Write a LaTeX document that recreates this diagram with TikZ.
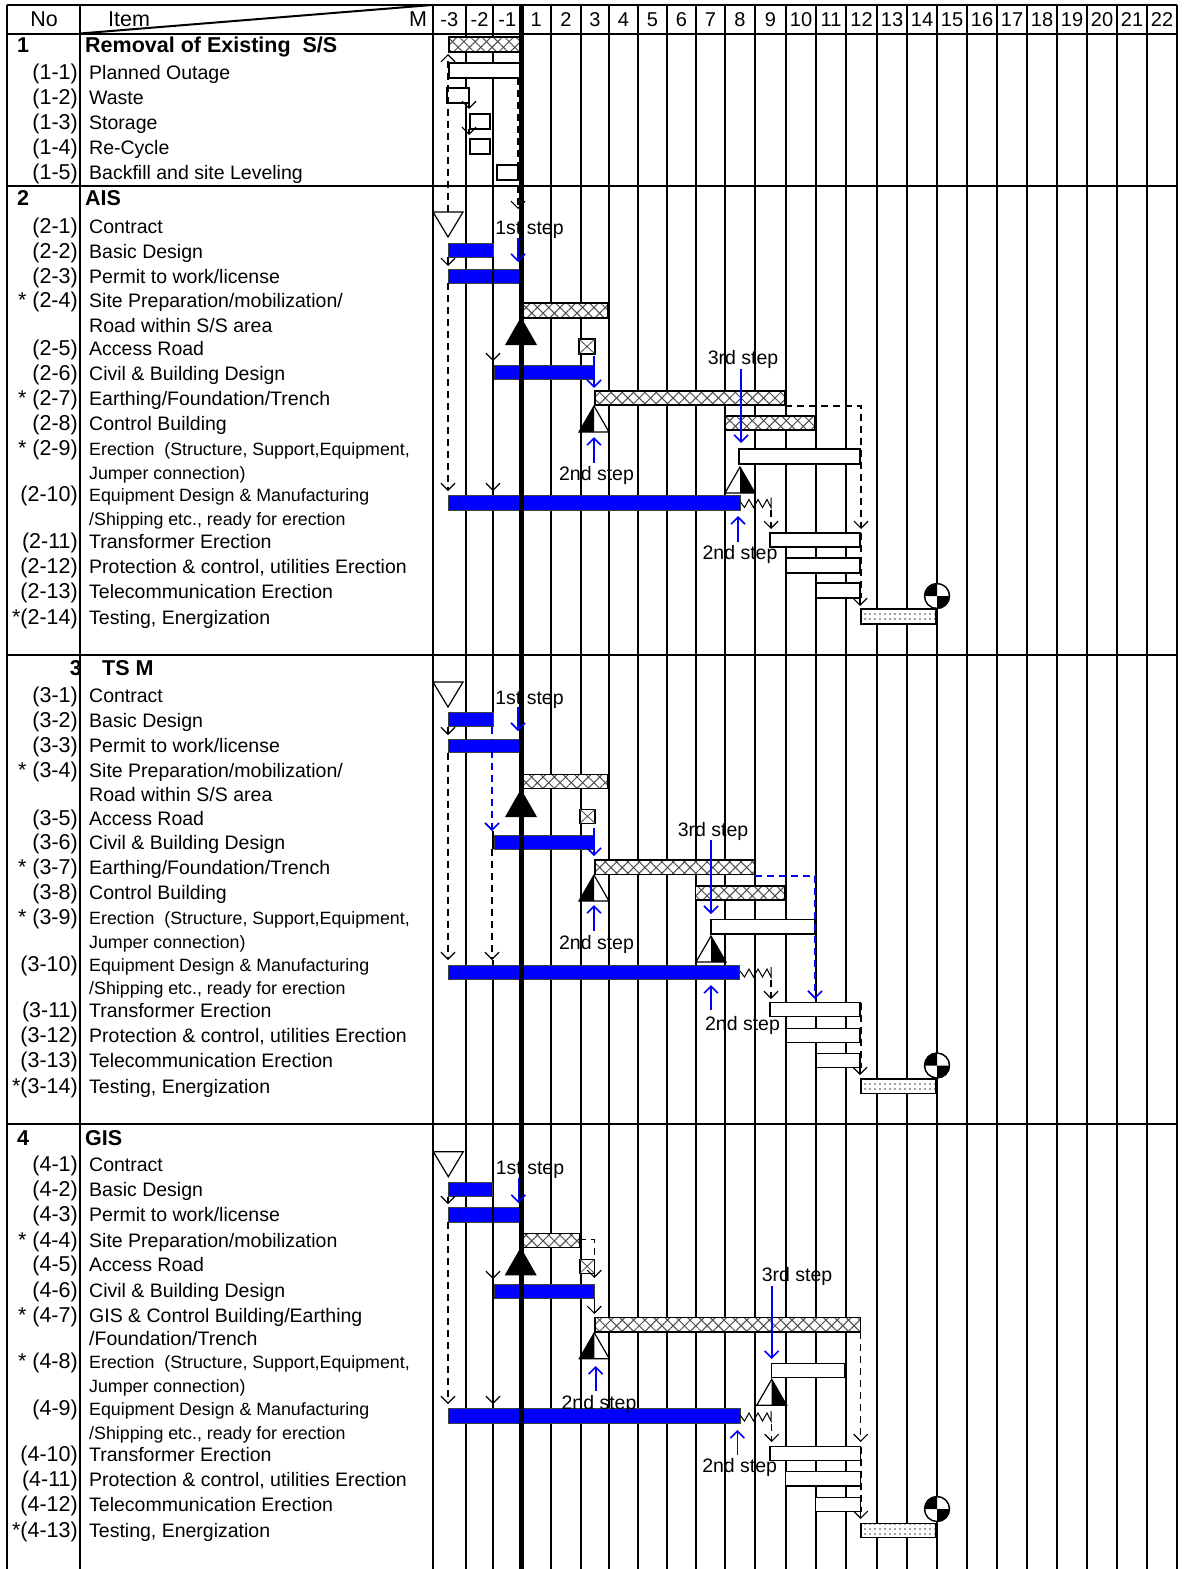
\documentclass[tikz,border=0pt]{standalone}
\usepackage{fontspec}
\setmainfont{Liberation Sans}
\usetikzlibrary{arrows.meta,patterns.meta}
\newcommand\fA{\fontsize{19.5}{23}\selectfont}
\newcommand\fB{\fontsize{17.8}{21}\selectfont}
\newcommand\fN{\fontsize{21.5}{25}\selectfont}
\newcommand\fH{\fontsize{21.5}{25}\selectfont}
\newcommand\fM{\fontsize{20}{24}\selectfont}
% rows: name, y, number, text
\newcommand\rowN[4]{\node[numcol] (n#1) at (78,#2) {#3}; \node[itm] (t#1) at (89,#2) {#4};}
\newcommand\rowS[4]{\node[numcol] (n#1) at (78,#2) {#3}; \node[itms] (t#1) at (89,#2) {#4};}
\newcommand\rowC[3]{\node[itm] (t#1) at (89,#2) {#3};}
\newcommand\rowCS[3]{\node[itms] (t#1) at (89,#2) {#3};}
% milestones
\newcommand\mkContract[2]{\draw[line width=1.2pt, fill=white] (#1-15,#2) -- (#1+15,#2) -- (#1,#2+25) -- cycle;}
\newcommand\mkBlackTri[2]{\fill (#1,#2) -- (#1+16,#2+28) -- (#1-16,#2+28) -- cycle;}
\newcommand\mkHalfL[2]{\draw[fill=white,line width=1.2pt] (#1,#2) -- (#1+15,#2+26) -- (#1-15,#2+26) -- cycle; \fill (#1,#2) -- (#1,#2+26) -- (#1-15,#2+26) -- cycle;}
\newcommand\mkHalfR[2]{\draw[fill=white,line width=1.2pt] (#1,#2) -- (#1+15,#2+26) -- (#1-15,#2+26) -- cycle; \fill (#1,#2) -- (#1,#2+26) -- (#1+15,#2+26) -- cycle;}
\newcommand\mkEnerg[2]{\draw[line width=1.2pt, fill=white] (#1,#2) circle[radius=12.5];
  \fill (#1,#2) -- (#1-12.5,#2) arc[start angle=180, end angle=270, radius=12.5] -- cycle;
  \fill (#1,#2) -- (#1+12.5,#2) arc[start angle=0, end angle=90, radius=12.5] -- cycle;
  \draw[line width=1.2pt] (#1,#2) circle[radius=12.5];}
\newcommand\mkXbox[4]{\draw[wbar] (#1,#2) rectangle (#3,#4); \draw[line width=0.8pt, black!70] (#1,#2) -- (#3,#4) (#1,#4) -- (#3,#2);}
\newcommand\mkZig[1]{\draw[line width=1pt] (740,#1-1) -- (744.5,#1+5) -- (749,#1-3) -- (753.5,#1+5) -- (758,#1-3) -- (762.5,#1+5) -- (767,#1-3) -- (771,#1+5) -- (771,#1-5);}
\begin{document}
\begin{tikzpicture}[x=1pt,y=-1pt,
  gl/.style={line width=2pt},
  numcol/.style={anchor=mid east, font=\fN, inner sep=0pt, yshift=-5pt},
  itm/.style={anchor=mid west, font=\fA, inner sep=0pt, yshift=-5pt},
  itms/.style={anchor=mid west, font=\fB, inner sep=0pt, yshift=-5pt},
  hd/.style={anchor=mid west, font=\fH\bfseries, inner sep=0pt, yshift=-5pt},
  lbl/.style={anchor=mid, font=\fA, inner sep=0pt, yshift=-5pt},
  bbar/.style={draw=black!75, line width=1pt, fill=blue},
  wbar/.style={draw=black, line width=1.2pt, fill=white},
  xbar/.style={fill=white,
    postaction={pattern={Lines[angle=45,distance=8pt,line width=1pt]}, pattern color=black!70},
    postaction={pattern={Lines[angle=-45,distance=8pt,line width=1pt]}, pattern color=black!70},
    postaction={draw=black, line width=1.2pt}},
  dbar/.style={fill=white,
    postaction={pattern={Dots[distance=5pt,radius=0.8pt]}, pattern color=black!75},
    postaction={draw=black, line width=1.2pt}},
  tipv/.style={-{Straight Barb[length=7pt,width=14pt]}},
  ar/.style={line width=1.2pt, tipv},
  dar/.style={ar, dash pattern=on 7pt off 5pt},
  blar/.style={ar, draw=blue, line width=1.6pt},
  bdar/.style={dar, draw=blue, line width=1.6pt},
  wline/.style={draw=white, line width=3.5pt},
]
\useasboundingbox (0,0) rectangle (1186,1569);
\fill[white] (0,0) rectangle (1186,1569);

% ---------- grid ----------
\draw[gl] (6.5,5) -- (1177,5);
\draw[gl] (6.5,33.5) -- (1177,33.5);
\foreach \y in {186,655,1124} \draw[gl] (6.5,\y) -- (1177,\y);
\foreach \x in {6.5,80,432.5,466,493,551,581,609,638,667,696,725,755,786,816,846,877,907,937,967,997,1027,1057,1087,1117,1147,1177}
  \draw[gl] (\x,5) -- (\x,1569);
\draw[gl] (80,33.5) -- (432,5);
% white gaps under the dashed connectors of section 3 (grid line hidden there)
\draw[wline] (492.5,727) -- (492.5,831) (492.5,849) -- (492.5,960);

% ---------- header ----------
\node[lbl, font=\fH] (hNo) at (44,19) {No};
\node[lbl, font=\fH] (hItem) at (129,19) {Item};
\node[lbl, font=\fH] (hM) at (418,19) {M};
\foreach \x/\t [count=\i] in {449.25/-3,479.5/-2,507.25/-1,536.25/1,566/2,595/3,623.5/4,652.5/5,681.5/6,710.5/7,740/8,770.5/9,801/10,831/11,861.5/12,892/13,922/14,952/15,982/16,1012/17,1042/18,1072/19,1102/20,1132/21,1162/22}
  \node[lbl, font=\fM] (m\i) at (\x,19) {\t};

% ---------- section 1 texts ----------
\node[hd] (h1n) at (17,45) {1};
\node[hd] (h1t) at (85,45) {Removal of Existing\ \ S/S};
\rowN{a1}{72}{(1-1)}{Planned Outage}
\rowN{a2}{97}{(1-2)}{Waste}
\rowN{a3}{122}{(1-3)}{Storage}
\rowN{a4}{147}{(1-4)}{Re-Cycle}
\rowN{a5}{172}{(1-5)}{Backfill and site Leveling}

% ---------- section 2 texts ----------
\node[hd] (h2n) at (17,198) {2};
\node[hd] (h2t) at (85,198) {AIS};
\rowN{b1}{226}{(2-1)}{Contract}
\rowN{b2}{251}{(2-2)}{Basic Design}
\rowN{b3}{276}{(2-3)}{Permit to work/license}
\rowN{b4}{300}{* (2-4)}{Site Preparation/mobilization/}
\rowC{b4b}{325}{Road within S/S area}
\rowN{b5}{348}{(2-5)}{Access Road}
\rowN{b6}{373}{(2-6)}{Civil \& Building Design}
\rowN{b7}{398}{* (2-7)}{Earthing/Foundation/Trench}
\rowN{b8}{423}{(2-8)}{Control Building}
\rowS{b9}{448}{* (2-9)}{Erection\ \ (Structure, Support,Equipment,}
\rowCS{b9b}{472}{Jumper connection)}
\rowS{b10}{494}{(2-10)}{Equipment Design \& Manufacturing}
\rowCS{b10b}{518}{/Shipping etc., ready for erection}
\rowN{b11}{541}{(2-11)}{Transformer Erection}
\rowN{b12}{566}{(2-12)}{Protection \& control, utilities Erection}
\rowN{b13}{591}{(2-13)}{Telecommunication Erection}
\rowN{b14}{617}{*(2-14)}{Testing, Energization}

% ---------- section 3 texts ----------
\node[hd, anchor=mid east] (h3n) at (82,668) {3};
\node[hd] (h3t) at (102,668) {TS M};
\rowN{c1}{695}{(3-1)}{Contract}
\rowN{c2}{720}{(3-2)}{Basic Design}
\rowN{c3}{745}{(3-3)}{Permit to work/license}
\rowN{c4}{770}{* (3-4)}{Site Preparation/mobilization/}
\rowC{c4b}{794}{Road within S/S area}
\rowN{c5}{818}{(3-5)}{Access Road}
\rowN{c6}{842}{(3-6)}{Civil \& Building Design}
\rowN{c7}{867}{* (3-7)}{Earthing/Foundation/Trench}
\rowN{c8}{892}{(3-8)}{Control Building}
\rowS{c9}{917}{* (3-9)}{Erection\ \ (Structure, Support,Equipment,}
\rowCS{c9b}{941}{Jumper connection)}
\rowS{c10}{964}{(3-10)}{Equipment Design \& Manufacturing}
\rowCS{c10b}{987}{/Shipping etc., ready for erection}
\rowN{c11}{1010}{(3-11)}{Transformer Erection}
\rowN{c12}{1035}{(3-12)}{Protection \& control, utilities Erection}
\rowN{c13}{1060}{(3-13)}{Telecommunication Erection}
\rowN{c14}{1086}{*(3-14)}{Testing, Energization}

% ---------- section 4 texts ----------
\node[hd] (h4n) at (17,1138) {4};
\node[hd] (h4t) at (85,1138) {GIS};
\rowN{d1}{1164}{(4-1)}{Contract}
\rowN{d2}{1189}{(4-2)}{Basic Design}
\rowN{d3}{1214}{(4-3)}{Permit to work/license}
\rowN{d4}{1240}{* (4-4)}{Site Preparation/mobilization}
\rowN{d5}{1264}{(4-5)}{Access Road}
\rowN{d6}{1290}{(4-6)}{Civil \& Building Design}
\rowN{d7}{1315}{* (4-7)}{GIS \& Control Building/Earthing}
\rowC{d7b}{1338}{/Foundation/Trench}
\rowS{d8}{1361}{* (4-8)}{Erection\ \ (Structure, Support,Equipment,}
\rowCS{d8b}{1385}{Jumper connection)}
\rowS{d9}{1408}{(4-9)}{Equipment Design \& Manufacturing}
\rowCS{d9b}{1432}{/Shipping etc., ready for erection}
\rowN{d10}{1454}{(4-10)}{Transformer Erection}
\rowN{d11}{1479}{(4-11)}{Protection \& control, utilities Erection}
\rowN{d12}{1504}{(4-12)}{Telecommunication Erection}
\rowN{d13}{1530}{*(4-13)}{Testing, Energization}

% ================= bars =================
% section 1
\path[xbar] (449,37) rectangle (520,52);
\draw[wbar] (449,63) rectangle (520,78);
\draw[wbar] (447,88) rectangle (469,103);
\draw[wbar] (470,114) rectangle (490,129);
\draw[wbar] (470,139) rectangle (490,154);
\draw[wbar] (497,165) rectangle (518,180);
% section 2
\draw[bbar] (448,243) rectangle (493,257);
\draw[bbar] (448,269) rectangle (520,283);
\path[xbar] (523,303) rectangle (608,318);
\mkXbox{579}{339}{595}{354}
\draw[bbar] (494,365) rectangle (594,379);
\path[xbar] (595,391) rectangle (785,405);
\path[xbar] (725,416) rectangle (815,430);
\draw[wbar] (739,449) rectangle (860,464);
\draw[bbar] (448,495) rectangle (740,510);
\draw[wbar] (770,533) rectangle (860,547);
\draw[wbar] (786,558) rectangle (860,573);
\draw[wbar] (816,583) rectangle (860,598);
\path[dbar] (861,609) rectangle (936,624);
% section 3
\draw[bbar] (448,712.5) rectangle (493,726.5);
\draw[bbar] (448,739) rectangle (520,752.5);
\path[xbar] (523,774.3) rectangle (608,788.3);
\mkXbox{580}{809.3}{595}{823.3}
\draw[bbar] (494,835) rectangle (594,849);
\path[xbar] (595,860) rectangle (754.5,874.3);
\path[xbar] (695.5,886) rectangle (785,900);
\draw[wbar] (711,919.3) rectangle (814.3,934);
\draw[bbar] (448,965) rectangle (739.5,979.3);
\draw[wbar] (770,1002.7) rectangle (860,1016.7);
\draw[wbar] (786,1028.3) rectangle (860,1042.3);
\draw[wbar] (816,1053.3) rectangle (860,1067.7);
\path[dbar] (861,1079) rectangle (936,1093.3);
% section 4
\draw[bbar] (448.3,1182.3) rectangle (492.7,1196.7);
\draw[bbar] (448,1207.7) rectangle (520,1222);
\path[xbar] (523,1233.3) rectangle (579.3,1247.3);
\mkXbox{580}{1259.3}{594.3}{1273.3}
\draw[bbar] (494,1284.3) rectangle (594.3,1298.7);
\path[xbar] (595,1317.7) rectangle (860.7,1332);
\draw[wbar] (771.7,1363.3) rectangle (845,1377.7);
\draw[bbar] (448.3,1408.7) rectangle (740,1423.3);
\draw[wbar] (770,1446.7) rectangle (860.7,1460.7);
\draw[wbar] (785.7,1471.7) rectangle (860.7,1486);
\draw[wbar] (815.7,1497.7) rectangle (860.7,1511.7);
\path[dbar] (861,1523.3) rectangle (936,1537.3);

% thick line
\draw[line width=5.5pt] (521.5,5) -- (521.5,1569);

% ================= connectors & milestones =================
% section 1
\draw[dar] (448,212) -- (448,54);
\draw[ar] (469,103) -- (469,109);
\draw[ar] (469,129) -- (469,135);
\draw[dar] (518,78) -- (518,209);

% section 2
\mkContract{448}{212}
\draw[ar] (448,257) -- (448,266);
\draw[dar] (448,283) -- (448,491);
\draw[ar] (493,257) -- (493,361);
\draw[ar] (493,379) -- (493,491);
\node[lbl] (s2a) at (529.5,227) {1st step};
\draw[blar] (518,238) -- (518,262);
\mkBlackTri{521}{317}
\draw[blar] (594,356) -- (594,388);
\mkHalfL{594}{406}
\draw[blar] (594,463) -- (594,437);
\node[lbl] (s2b) at (596.5,473) {2nd step};
\draw[dar] (785,406) -- (861,406) -- (861,529);
\node[lbl] (s2c) at (743,357) {3rd step};
\draw[blar] (741,369) -- (741,443);
\mkHalfR{740}{467}
\mkZig{502.5}
\draw[dar] (771,510) -- (771,529);
\draw[blar] (738,542) -- (738,516);
\node[lbl] (s2d) at (740,552) {2nd step};
\draw[line width=1.2pt, dash pattern=on 7pt off 5pt] (861,533) -- (861,598);
\draw[ar] (860,598) -- (860,606);
\mkEnerg{937}{596}

% section 3
\mkContract{448}{682}
\draw[ar] (448,726.5) -- (448,735);
\draw[dar] (448,752.5) -- (448,960);
\draw[bdar] (492,727) -- (492,831);
\draw[dar] (492,849) -- (492,960);
\node[lbl] (s3a) at (529.5,696.5) {1st step};
\draw[blar] (518,707) -- (518,731);
\mkBlackTri{521}{789}
\draw[blar] (594,828) -- (594,856);
\mkHalfL{594}{875}
\draw[blar] (594,931) -- (594,905);
\node[lbl] (s3b) at (596.5,941.5) {2nd step};
\draw[bdar] (755,876) -- (815,876) -- (815,999);
\node[lbl] (s3c) at (713,828.5) {3rd step};
\draw[blar] (711,840) -- (711,914);
\mkHalfR{711}{936}
\mkZig{972}
\draw[dar] (771,980) -- (771,999);
\draw[blar] (711,1010) -- (711,985);
\node[lbl] (s3d) at (742.5,1023) {2nd step};
\draw[line width=1.2pt, dash pattern=on 7pt off 5pt] (861,1002.7) -- (861,1067.7);
\draw[ar] (860,1068) -- (860,1075);
\mkEnerg{937}{1065.5}

% section 4
\mkContract{448.3}{1151.7}
\draw[ar] (448,1196.7) -- (448,1204);
\draw[dar] (448,1222) -- (448,1404);
\draw[ar] (493,1196.7) -- (493,1279);
\draw[ar] (493,1298.7) -- (493,1404);
\node[lbl] (s4a) at (530,1167.3) {1st step};
\draw[blar] (518.3,1178) -- (518.3,1203);
\draw[dar] (579.3,1239.3) -- (594.3,1239.3) -- (594.3,1278);
\mkBlackTri{520.7}{1247.3}
\draw[ar] (594.3,1298.7) -- (594.3,1314);
\mkHalfL{594.3}{1332.7}
\draw[blar] (595.7,1391) -- (595.7,1366);
\node[lbl] (s4b) at (599,1401.7) {2nd step};
\node[lbl] (s4c) at (797,1274) {3rd step};
\draw[blar] (771.7,1286) -- (771.7,1359);
\mkHalfR{771.7}{1379.3}
\mkZig{1416}
\draw[dar] (771.7,1424) -- (771.7,1442);
\draw[blar] (737.3,1455) -- (737.3,1430);
\node[lbl] (s4d) at (739.7,1465) {2nd step};
\draw[dar] (860.7,1332) -- (860.7,1442);
\draw[line width=1.2pt, dash pattern=on 7pt off 5pt] (861,1446.7) -- (861,1511.7);
\draw[ar] (860.7,1511.7) -- (860.7,1519);
\mkEnerg{937}{1509}
\end{tikzpicture}
\end{document}
